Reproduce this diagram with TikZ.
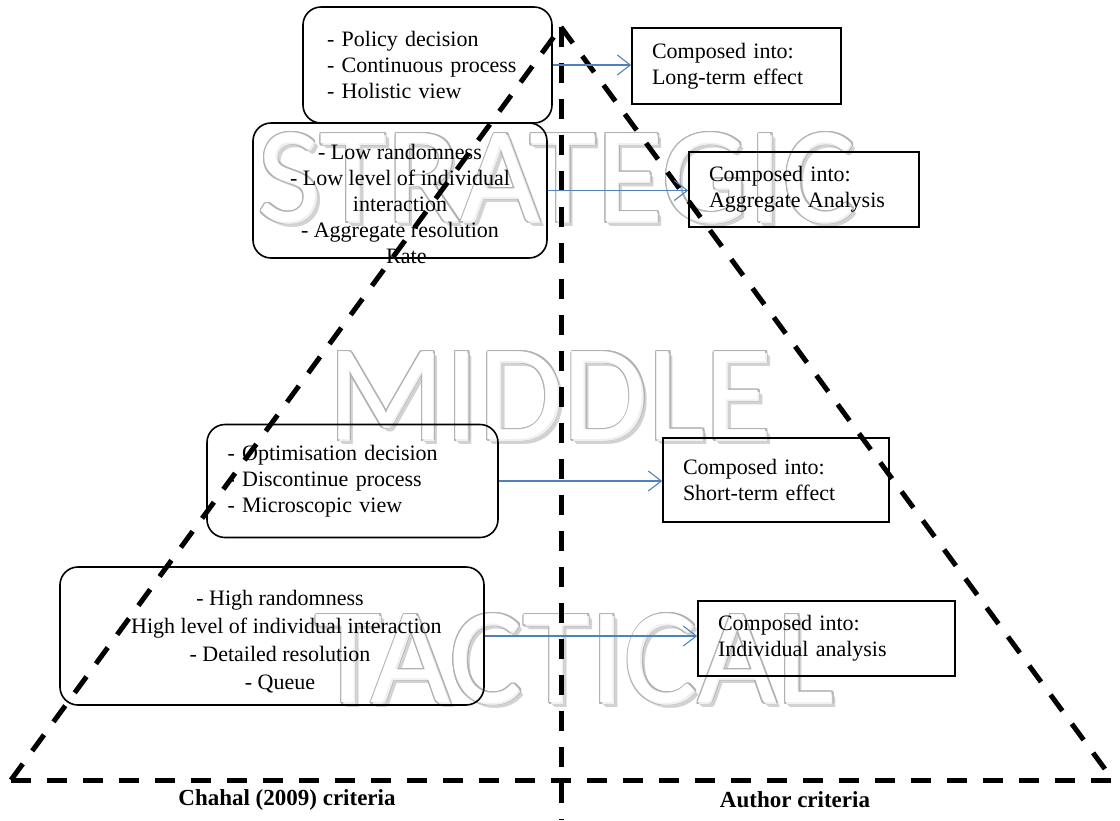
\documentclass[tikz,border=0pt]{standalone}
\usepackage{fontspec}
\setmainfont{Liberation Serif}
\newfontfamily\wordfont{Carlito}
\usetikzlibrary{arrows.meta, calc}
\definecolor{flowblue}{RGB}{79,129,189}
\tikzset{
  listbox/.style = {draw, line width=1.6pt, rounded corners=18pt, inner sep=0pt, font=\fontsize{22}{26}\selectfont},
  listtext/.style = {inner sep=0pt, align=center, font=\fontsize{22}{26}\selectfont},
  resultbox/.style = {draw, line width=1.6pt, align=left, inner xsep=20pt, inner ysep=0pt, font=\fontsize{22}{26}\selectfont},
  flow/.style = {draw=flowblue, line width=1.1pt, -{Straight Barb[length=13pt, width=20pt]}},
  edge/.style = {line width=5pt, dash pattern=on 20pt off 16pt},
  criteria/.style = {font=\fontsize{23}{23}\selectfont\bfseries},
  word/.style = {anchor=base, inner sep=0pt, font=\wordfont\fontsize{137}{137}\selectfont}
}
% level word: name, x, y, text
\newcommand{\layerword}[4]{%
  \foreach \s in {1,2,3,4}
    \node[word, text=gray!35] at (#2+\s,#3+\s) {#4};
  \foreach \a in {0,20,...,340}
    \node[word, text=gray!60] at ($(#2,#3)+(\a:1.6)$) {#4};
  \node[word, text=gray!12] at (#2+1,#3+1) {#4};
  \node[word, text=white] (#1) at (#2-0.6,#3-0.6) {#4};
}

\begin{document}
\begin{tikzpicture}[x=1pt, y=-1pt]
\useasboundingbox (0,0) rectangle (1120,820);

% level words behind everything
\layerword{strategic}{557}{222}{STRATEGIC}
\layerword{middle}{550}{440}{MIDDLE}
\layerword{tactical}{575}{703}{TACTICAL}

% pyramid
\coordinate (apex) at (561,27);
\coordinate (leftc) at (11,780);
\coordinate (rightc) at (1113,780);
\coordinate (foot) at (561,820);
\draw[edge] (leftc) -- (apex);
\draw[edge] (apex) -- (rightc);
\draw[edge] (leftc) -- (rightc);
\draw[edge] (apex) -- (foot);

% Chahal criteria
\node[listbox, minimum width=249pt, minimum height=116pt, text width=201pt, align=left] (policy) at (427.5,65)
  {- Policy decision\\- Continuous process\\- Holistic view};
\node[listbox, minimum width=294pt, minimum height=135pt] (lowbox) at (400,190.5) {};
\node[listtext] (lowtext) at (400,204)
  {- Low randomness\\- Low level of individual\\interaction\\- Aggregate resolution\\- Rate};
\node[listbox, minimum width=291pt, minimum height=113pt, text width=250pt, align=left] (optim) at (352.5,481)
  {- Optimisation decision\\- Discontinue process\\- Microscopic view};
\node[listbox, minimum width=424pt, minimum height=138pt] (highbox) at (272,636) {};
\node[listtext, font=\fontsize{22}{28}\selectfont] (hightext) at (280,642)
  {- High randomness\\- High level of individual interaction\\- Detailed resolution\\- Queue};

% author criteria
\node[resultbox, text width=169pt, minimum height=76pt] (longterm) at (736.5,66) {Composed into:\\Long-term effect};
\node[resultbox, text width=190pt, minimum height=75pt] (aggregate) at (804,189.5) {Composed into:\\Aggregate Analysis};
\node[resultbox, text width=186pt, minimum height=84pt] (shortterm) at (776,480) {Composed into:\\Short-term effect};
\node[resultbox, text width=217pt, minimum height=75pt] (individual) at (826.5,638.5) {Composed into:\\Individual analysis};

\draw[flow] (policy.east) -- (policy.east -| longterm.west);
\draw[flow] (lowbox.east) -- (lowbox.east -| aggregate.west);
\draw[flow] (optim.east) -- (optim.east -| shortterm.west);
\draw[flow] (highbox.east) -- (highbox.east -| individual.west);

\node[criteria] (chahal) at (287,800) {Chahal (2009) criteria};
\node[criteria] (author) at (795,800) {Author criteria};
\end{tikzpicture}
\end{document}
